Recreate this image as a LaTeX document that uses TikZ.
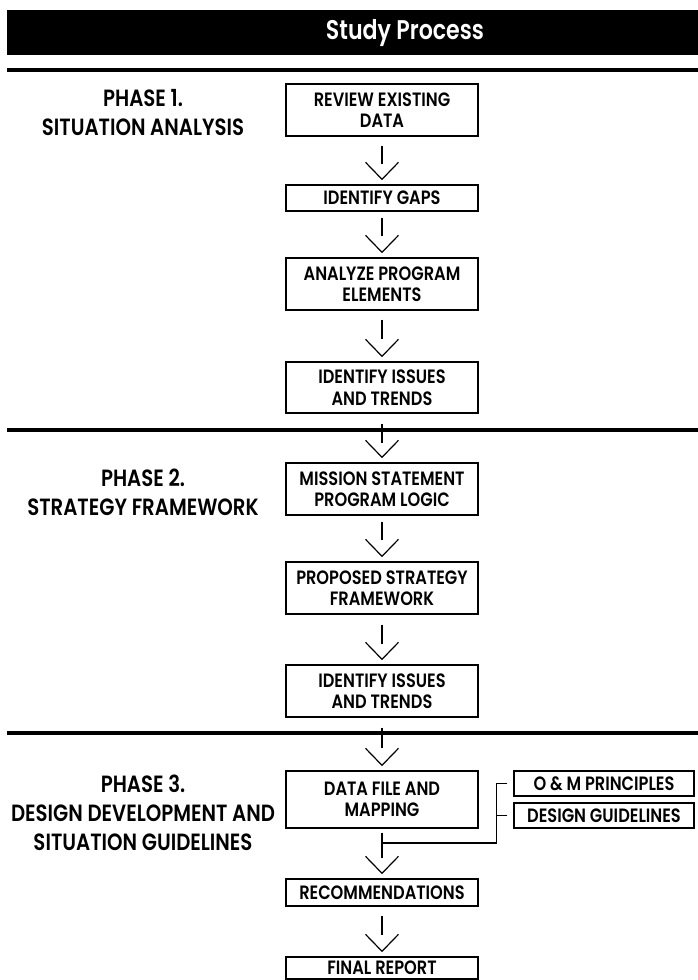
\documentclass[tikz,border=0pt]{standalone}
\usepackage{fontspec}
\newfontfamily\boxfont{Poppins SemiBold}[FakeStretch=0.84]
\newfontfamily\titlefont{Poppins SemiBold}[FakeStretch=0.82]
\begin{document}
\begin{tikzpicture}[x=1pt,y=-1pt,
  box/.style={draw, line width=1.4pt, minimum width=192pt, inner sep=0pt, align=center,
    font=\boxfont\fontsize{19.3}{21.5}\selectfont},
  side/.style={box, minimum width=180pt, minimum height=25pt},
  phase/.style={align=center, inner sep=0pt, font=\boxfont\fontsize{23.5}{29}\selectfont},
  conn/.style={line width=1.2pt},
  rulebar/.style={line width=4.5pt}]
\useasboundingbox (0,0) rectangle (698,980);

% banner and title
\node[fill=black, inner sep=0pt, minimum width=691pt, minimum height=45pt, anchor=north west] (banner) at (7,10) {};
\node[text=white, inner sep=0pt, font=\titlefont\fontsize{27}{27}\selectfont] (title) at (405,33) {Study Process};

% separator rules
\draw[rulebar] (7,70) -- (698,70);
\draw[rulebar] (7,430) -- (698,430);
\draw[rulebar] (7,733) -- (698,733);

% phase labels
\node[phase] (p1) at (143,112.5) {PHASE 1.\\SITUATION ANALYSIS};
\node[phase] (p2) at (143,492) {PHASE 2.\\STRATEGY FRAMEWORK};
\node[phase] (p3) at (143,812.5) {PHASE 3.\\DESIGN DEVELOPMENT AND\\SITUATION GUIDELINES};

% boxes
\node[box, minimum height=52pt] (b1) at (382,110) {REVIEW EXISTING\\DATA};
\node[box, minimum height=26pt] (b2) at (382,198) {IDENTIFY GAPS};
\node[box, minimum height=52pt] (b3) at (382,284) {ANALYZE PROGRAM\\ELEMENTS};
\node[box, minimum height=51pt] (b4) at (382,387.5) {IDENTIFY ISSUES\\AND TRENDS};
\node[box, minimum height=52pt] (b5) at (382,489) {MISSION STATEMENT\\PROGRAM LOGIC};
\node[box, minimum height=52pt] (b6) at (382,588) {PROPOSED STRATEGY\\FRAMEWORK};
\node[box, minimum height=52pt] (b7) at (382,691) {IDENTIFY ISSUES\\AND TRENDS};
\node[box, minimum height=57pt] (b8) at (382,799.5) {DATA FILE AND\\MAPPING};
\node[box, minimum height=27pt] (b9) at (382,892.5) {RECOMMENDATIONS};
\node[box, minimum height=22pt] (b10) at (382,968) {FINAL REPORT};

\node[side] (s1) at (604,783.5) {O \& M PRINCIPLES};
\node[side] (s2) at (604,815.5) {DESIGN GUIDELINES};

% arrows: stem below the upper box, open chevron above the lower box
\newcommand\flowstem[3]{\draw[conn] ([yshift=-#2pt]#1.south) -- ++(0,#3);}
\newcommand\flowhead[1]{\draw[conn] ([xshift=-16.5pt,yshift=22pt]#1.north) -- ([yshift=5pt]#1.north) -- ++(16.5,-17);}

\flowstem{b1}{9}{18}\flowhead{b2}
\flowstem{b2}{6}{18}\flowhead{b3}
\flowstem{b3}{9}{19}\flowhead{b4}
\flowstem{b4}{10}{19}\flowhead{b5}
\flowstem{b5}{6}{18}\flowhead{b6}
\flowstem{b6}{10}{19}\flowhead{b7}
\flowstem{b7}{10}{20}\flowhead{b8}
\flowstem{b8}{4}{25}\flowhead{b9}
\flowstem{b9}{9}{19}\flowhead{b10}

% side inputs joining the main flow
\coordinate (j) at (382,843);
\draw[conn] ([xshift=-6pt]s1.west) -- ++(-11,0) |- (j);
\draw[conn] ([xshift=-6pt]s2.west) -- ++(-11,0);
\end{tikzpicture}
\end{document}
